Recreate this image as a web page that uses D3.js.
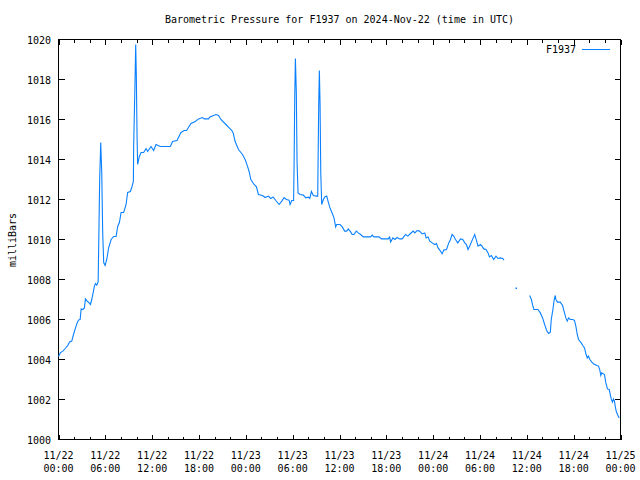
<!DOCTYPE html>
<html><head><meta charset="utf-8">
<script src="https://cdn.jsdelivr.net/npm/d3@7"></script>
<style>body{margin:0;background:#fff}svg{display:block}</style>
</head><body>
<svg id="c" width="640" height="480"></svg>
<script>
// ---- data (hours since 2024-11-22 00:00 UTC, pressure in mbar; null = missing) ----
const hours = [0.00,0.22,0.55,0.86,1.19,1.41,1.70,1.92,2.14,2.39,2.56,2.77,2.90,3.11,3.32,3.45,3.67,3.87,4.09,4.26,4.48,4.60,4.73,4.90,5.08,
5.15,5.28,5.41,5.54,5.66,5.79,5.97,6.18,6.43,6.74,7.07,7.38,7.58,7.80,8.02,8.35,8.66,8.86,9.21,9.42,9.59,
9.63,9.81,9.89,9.97,10.06,10.14,10.36,10.58,10.91,11.22,11.42,11.85,12.19,12.49,13.04,14.32,14.62,15.18,15.69,16.11,16.41,
16.97,17.52,17.94,18.45,18.67,19.22,19.40,20.17,20.50,20.81,21.45,21.87,22.21,22.38,22.63,23.06,23.57,23.91,24.21,24.42,24.64,
25.06,25.36,25.61,26.13,26.47,26.89,27.20,27.49,27.84,28.26,28.61,28.90,29.20,29.54,29.67,29.89,30.12,
30.18,30.27,30.35,30.47,30.56,30.69,30.95,31.37,31.68,32.01,32.19,32.40,32.65,33.03,33.21,
33.25,33.34,33.42,33.51,33.60,33.72,33.93,34.11,34.36,34.53,34.78,35.08,35.29,35.51,35.64,36.06,36.36,36.66,36.92,37.12,37.43,
37.63,37.85,38.15,38.40,38.71,39.04,39.99,40.19,40.41,41.05,41.37,42.24,42.42,42.55,42.84,43.10,43.39,43.70,44.03,44.46,44.76,
45.10,45.44,45.65,45.95,46.25,46.59,46.93,47.10,47.35,47.57,47.87,48.21,48.43,48.63,48.94,49.14,49.36,49.71,50.00,50.22,50.42,
50.64,50.86,51.15,51.50,51.79,52.05,52.26,52.47,52.77,53.07,53.32,53.49,53.75,54.05,54.26,54.48,54.77,55.03,55.21,55.46,55.75,
56.05,56.30,56.61,56.91,57.07,
57.80,58.61,59.50,
60.36,60.58,60.78,60.91,61.42,61.73,62.02,62.28,62.57,62.79,63.01,63.13,63.34,63.51,63.64,63.72,63.94,64.28,64.58,64.80,65.00,
65.18,65.35,65.56,65.90,66.11,66.28,66.46,66.62,66.97,67.17,67.39,67.56,67.74,67.90,68.07,68.33,68.58,68.97,69.18,69.35,69.48,
69.60,69.95,70.12,70.33,70.55,70.81,70.97,71.10,71.23,71.32,71.45,71.61,71.83];
const pressure = [1004.15,1004.33,1004.42,1004.55,1004.70,1004.88,1004.92,1005.25,1005.53,1005.83,1005.97,1006.00,1006.53,1006.50,1006.58,1007.03,1006.92,1006.85,1006.75,1007.00,1007.42,1007.67,1007.80,1007.72,1007.88,
1009.70,1013.10,1014.85,1013.35,1010.35,1008.85,1008.70,1009.00,1009.60,1010.00,1010.15,1010.15,1010.65,1010.85,1011.35,1011.35,1011.75,1012.35,1012.40,1012.65,1012.90,
1014.67,1018.03,1019.75,1018.25,1015.25,1013.75,1014.15,1014.35,1014.35,1014.55,1014.40,1014.65,1014.45,1014.75,1014.65,1014.65,1014.90,1014.95,1015.35,1015.45,1015.45,
1015.80,1015.90,1016.03,1016.10,1016.03,1016.03,1016.13,1016.25,1016.20,1016.00,1015.75,1015.58,1015.45,1015.33,1014.90,1014.50,1014.25,1014.00,1013.67,1013.40,1013.00,
1012.75,1012.63,1012.25,1012.20,1012.10,1012.17,1012.05,1012.13,1011.95,1011.75,1011.92,1012.10,1012.00,1011.97,1011.75,1011.95,1011.95,
1013.70,1017.25,1019.05,1017.33,1013.90,1012.33,1012.25,1012.22,1012.08,1012.12,1012.05,1012.40,1012.20,1012.17,1012.17,
1013.70,1016.83,1018.45,1016.75,1013.33,1011.75,1012.00,1012.13,1012.17,1011.92,1011.58,1011.30,1011.08,1010.63,1010.75,1010.75,1010.63,1010.42,1010.42,1010.53,1010.38,
1010.25,1010.25,1010.42,1010.33,1010.25,1010.13,1010.13,1010.22,1010.13,1010.13,1010.03,1010.03,1010.12,1009.88,1010.08,1010.00,1010.10,1010.03,1010.03,1010.25,1010.17,
1010.30,1010.42,1010.33,1010.45,1010.42,1010.28,1010.33,1010.08,1010.13,1009.92,1009.83,1009.75,1009.80,1009.58,1009.42,1009.28,1009.47,1009.50,1009.83,1010.00,1010.25,
1010.17,1010.00,1009.83,1010.03,1010.00,1009.83,1009.75,1009.50,1009.75,1010.03,1010.25,1010.03,1009.67,1009.75,1009.67,1009.53,1009.50,1009.33,1009.13,1009.20,1009.00,
1009.17,1009.05,1009.08,1009.05,1008.97,
null,1007.58,null,
1007.20,1007.00,1006.67,1006.50,1006.50,1006.33,1006.08,1005.75,1005.42,1005.30,1005.37,1006.00,1006.50,1007.00,1007.20,1007.00,1006.87,1006.87,1006.70,1006.37,1006.08,
1005.92,1006.08,1006.00,1006.00,1005.95,1005.67,1005.25,1005.00,1004.83,1004.70,1004.58,1004.30,1004.08,1004.17,1004.00,1003.87,1003.77,1003.70,1003.67,1003.47,1003.20,
1003.33,1003.25,1002.83,1002.53,1002.50,1002.03,1001.87,1002.03,1001.92,1001.67,1001.42,1001.25,1001.08];

const xMajorHours = [0,6,12,18,24,30,36,42,48,54,60,66,72];
const xTickDates = ["11/22","11/22","11/22","11/22","11/23","11/23","11/23","11/23","11/24","11/24","11/24","11/24","11/25"];
const xTickTimes = ["00:00","06:00","12:00","18:00","00:00","06:00","12:00","18:00","00:00","06:00","12:00","18:00","00:00"];
const xMinorHours = [2,4,8,10,14,16,20,22,26,28,32,34,38,40,44,46,50,52,56,58,62,64,68,70];
const yTicks = [1000,1002,1004,1006,1008,1010,1012,1014,1016,1018,1020];
const seriesName = "F1937";
const titleText = "Barometric Pressure for F1937 on 2024-Nov-22 (time in UTC)";
const yLabelText = "milliBars";

// ---- drawing ----
const FONT = "'DejaVu Sans Mono', 'Liberation Mono', monospace";
const COLOR = "#0a80ff";
const L = 58.5, R = 620.5, T = 39.5, B = 439.5;
const svg = d3.select("#c");
svg.append("rect").attr("width",640).attr("height",480).attr("fill","#fff");

const x = d3.scaleLinear().domain([0,72]).range([L,R]);
const y = d3.scaleLinear().domain([1000,1020]).range([B,T]);

const data = hours.map((h,i)=>({h, v: pressure[i]}));

// ticks (inward, mirrored)
const g = svg.append("g").attr("shape-rendering","crispEdges").attr("stroke","#000").attr("stroke-width",1);
function tickX(h, len){
  const px = Math.round(x(h)) + 0.5;
  g.append("line").attr("x1",px).attr("x2",px).attr("y1",B).attr("y2",B-len);
  g.append("line").attr("x1",px).attr("x2",px).attr("y1",T).attr("y2",T+len);
}
xMajorHours.forEach(h=>tickX(h,5));
xMinorHours.forEach(h=>tickX(h,3));
yTicks.forEach(v=>{
  const py = Math.round(y(v)-0.5)+0.5;
  g.append("line").attr("x1",L).attr("x2",L+6).attr("y1",py).attr("y2",py);
  g.append("line").attr("x1",R).attr("x2",R-6).attr("y1",py).attr("y2",py);
});
g.append("rect").attr("x",L).attr("y",T).attr("width",R-L).attr("height",B-T).attr("fill","none");

// tick labels
const txt = svg.append("g").attr("font-family",FONT).attr("font-size",10).attr("fill","#000");
yTicks.forEach(v=>{
  txt.append("text").attr("x",51).attr("y",y(v)+4).attr("text-anchor","end").text(v);
});
xMajorHours.forEach((h,i)=>{
  txt.append("text").attr("x",x(h)).attr("y",459).attr("text-anchor","middle").text(xTickDates[i]);
  txt.append("text").attr("x",x(h)).attr("y",472).attr("text-anchor","middle").text(xTickTimes[i]);
});
txt.append("text").attr("x",(L+R)/2).attr("y",23).attr("text-anchor","middle").text(titleText);
txt.append("text").attr("transform","translate(16,240) rotate(-90)").attr("text-anchor","middle").text(yLabelText);

// legend
txt.append("text").attr("x",576).attr("y",53).attr("text-anchor","end").text(seriesName);
svg.append("line").attr("x1",582).attr("x2",610).attr("y1",49.5).attr("y2",49.5)
  .attr("stroke",COLOR).attr("stroke-width",1).attr("shape-rendering","crispEdges");

// series line
const line = d3.line().defined(d=>d.v!=null).x(d=>x(d.h)).y(d=>y(d.v));
svg.append("path").datum(data).attr("d",line).attr("fill","none")
  .attr("stroke",COLOR).attr("stroke-width",1.1).attr("stroke-linejoin","miter");
// isolated points
data.forEach((d,i)=>{
  if(d.v==null) return;
  const p = data[i-1], n = data[i+1];
  if((!p || p.v==null) && (!n || n.v==null)){
    svg.append("rect").attr("x",Math.round(x(d.h))-0.5).attr("y",Math.round(y(d.v))-0.5)
      .attr("width",1.5).attr("height",1.5).attr("fill",COLOR);
  }
});
</script>
</body></html>
